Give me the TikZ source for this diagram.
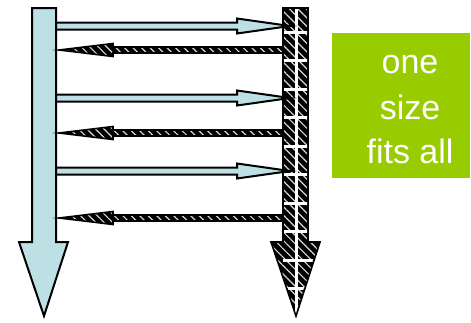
\documentclass[tikz,border=0pt]{standalone}
\usepackage{fontspec}
\setmainfont{Liberation Sans}
\usetikzlibrary{patterns.meta}
\definecolor{lb}{RGB}{188,224,228}
\definecolor{gr}{RGB}{153,204,0}
\tikzset{
  bluearrow/.style={fill=lb,draw=black,line width=2pt,line join=miter},
  hatcharrow/.style={preaction={fill=black},
     pattern={Lines[angle=-45,distance=6pt,line width=1.2pt]},pattern color=white!85!black,
     draw=black,line width=1.6pt,line join=miter},
  label/.style={text=white,font=\fontsize{34}{40}\selectfont,anchor=base,inner sep=0pt}
}
\begin{document}
\begin{tikzpicture}[x=1pt,y=-1pt]
\useasboundingbox (0,0) rectangle (471,322);
% left big arrow
\path[bluearrow] (32,8) -- (56,8) -- (56,242) -- (68,242) -- (44,316) -- (19,242) -- (32,242) -- cycle;
% right big arrow
\path[hatcharrow] (283,8) -- (308,8) -- (308,242) -- (320,242) -- (296,316) -- (271,242) -- (283,242) -- cycle;
\begin{scope}
\clip (284,9) -- (307,9) -- (307,243) -- (318,243) -- (296,313) -- (273,243) -- (284,243) -- cycle;
\draw[white,line width=3pt] (296,8) -- (296,320);
\foreach \yy in {32,60.5,...,300} \draw[white,line width=3pt] (283,\yy) -- (320,\yy);
\end{scope}
% right-pointing arrows
\foreach \yc in {26,98,171}{
  \path[bluearrow] (56,\yc-3.5) -- (237,\yc-3.5) -- (237,\yc-7.5) -- (290,\yc) -- (237,\yc+7.5) -- (237,\yc+3.5) -- (56,\yc+3.5) -- cycle;
}
% left-pointing arrows
\foreach \yc in {50,133,218}{
  \path[hatcharrow] (283,\yc-3) -- (113,\yc-3) -- (113,\yc-6.5) -- (59,\yc) -- (113,\yc+6.5) -- (113,\yc+3) -- (283,\yc+3) -- cycle;
}
% green box
\fill[gr] (332,33) rectangle (470,178);
\node[label] (l1) at (410,73) {one};
\node[label] (l2) at (410,119) {size};
\node[label] (l3) at (410,163) {fits all};
\end{tikzpicture}
\end{document}
